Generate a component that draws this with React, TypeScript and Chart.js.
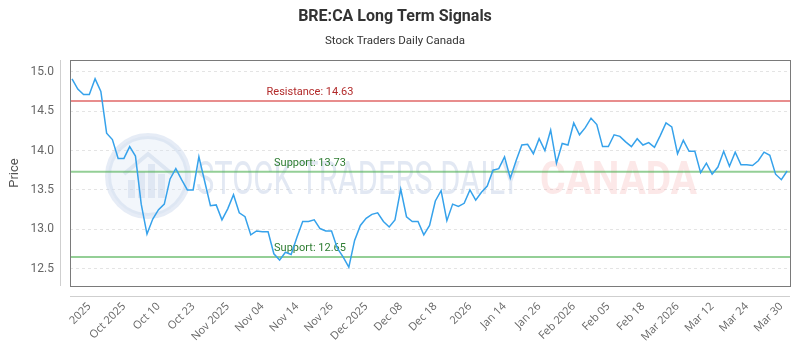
import React, { useEffect, useRef } from 'react';
import { Chart, registerables } from 'chart.js';

Chart.register(...registerables);

const TITLE = 'BRE:CA Long Term Signals';
const SUBTITLE = 'Stock Traders Daily Canada';
const Y_TITLE = 'Price';

// Daily closing prices, oldest first
const prices = [
  14.91, 14.78, 14.71, 14.71, 14.91, 14.75, 14.22, 14.14, 13.9, 13.9,
  14.05, 13.93, 13.32, 12.94, 13.13, 13.25, 13.32, 13.64, 13.77, 13.63,
  13.5, 13.5, 13.92, 13.61, 13.3, 13.31, 13.12, 13.26, 13.44, 13.21,
  13.16, 12.93, 12.98, 12.97, 12.97, 12.69, 12.61, 12.71, 12.68, 12.9,
  13.1, 13.1, 13.12, 13.01, 12.98, 12.98, 12.76, 12.65, 12.52, 12.86,
  13.05, 13.14, 13.19, 13.21, 13.1, 13.03, 13.12, 13.51, 13.16, 13.1,
  13.1, 12.93, 13.05, 13.36, 13.49, 13.11, 13.32, 13.29, 13.33, 13.5,
  13.37, 13.47, 13.55, 13.75, 13.77, 13.92, 13.65, 13.87, 14.07, 14.08,
  13.96, 14.15, 14.0, 14.26, 13.84, 14.09, 14.07, 14.35, 14.2, 14.29,
  14.41, 14.33, 14.05, 14.05, 14.2, 14.18, 14.11, 14.05, 14.15, 14.07,
  14.1, 14.04, 14.19, 14.35, 14.3, 13.96, 14.13, 13.99, 13.99, 13.72,
  13.84, 13.7, 13.79, 13.99, 13.8, 13.98, 13.82, 13.82, 13.81, 13.87,
  13.98, 13.94, 13.7, 13.63, 13.74,
];

// Positions (data index) and texts of the date ticks
const tickPositions = [3, 9, 15, 21, 27, 33, 39, 45, 51, 57, 63, 69, 75, 81, 87, 93, 99, 105, 111, 117, 123];
const tickLabels = [
  '2025', 'Oct 2025', 'Oct 10', 'Oct 23', 'Nov 2025', 'Nov 04', 'Nov 14', 'Nov 26',
  'Dec 2025', 'Dec 08', 'Dec 18', '2026', 'Jan 14', 'Jan 26', 'Feb 2026', 'Feb 05',
  'Feb 18', 'Mar 2026', 'Mar 12', 'Mar 24', 'Mar 30',
];

// Signal levels
const levelNames = ['Resistance', 'Support', 'Support'];
const levelValues = [14.63, 13.73, 12.65];

const LEVEL_LINE = { Resistance: 'rgba(220, 80, 80, 0.65)', Support: 'rgba(76, 175, 80, 0.6)' };
const LEVEL_TEXT = { Resistance: '#b22a2a', Support: '#2e7d32' };

const dataMin = Math.min(...prices);
const dataMax = Math.max(...prices);
const pad = (dataMax - dataMin) * 0.1;

const decorPlugin = {
  id: 'decor',
  beforeDatasetsDraw(chart: any) {
    const { ctx, chartArea, scales } = chart;
    const cx = chart.width / 2;
    const cy = chart.height / 2 + 1;
    ctx.save();

    // brand emblem
    const ex = cx - 252;
    ctx.beginPath();
    ctx.arc(ex, cy, 40, 0, Math.PI * 2);
    ctx.fillStyle = 'rgba(218, 228, 244, 0.35)';
    ctx.fill();
    ctx.lineWidth = 6;
    ctx.strokeStyle = 'rgba(200, 212, 234, 0.45)';
    ctx.stroke();
    ctx.fillStyle = 'rgba(190, 204, 228, 0.35)';
    const bars = [18, 26, 34, 24];
    bars.forEach((h, i) => {
      ctx.fillRect(ex - 20 + i * 10, cy + 22 - h, 7, h);
    });
    ctx.beginPath();
    ctx.moveTo(ex - 24, cy - 2);
    ctx.lineTo(ex, cy - 22);
    ctx.lineTo(ex + 24, cy - 2);
    ctx.lineWidth = 4;
    ctx.strokeStyle = 'rgba(190, 204, 228, 0.4)';
    ctx.stroke();

    // brand text
    const drawFit = (text: string, x: number, w: number, font: string, color: string) => {
      ctx.font = font;
      const m = ctx.measureText(text).width;
      ctx.save();
      ctx.translate(x, cy + 18);
      ctx.scale(w / m, 1);
      ctx.fillStyle = color;
      ctx.textAlign = 'left';
      ctx.textBaseline = 'alphabetic';
      ctx.fillText(text, 0, 0);
      ctx.restore();
    };
    drawFit('STOCK TRADERS DAILY', cx - 204, 324, '400 46px Roboto', 'rgba(185, 200, 226, 0.42)');
    drawFit('CANADA', cx + 140, 157, 'bold 46px Roboto', 'rgba(240, 150, 150, 0.22)');
    ctx.restore();

    // signal levels
    ctx.save();
    const y = scales.y;
    const labelX = chartArea.left + chartArea.width / 3;
    levelValues.forEach((v, i) => {
      const name = levelNames[i] as 'Resistance' | 'Support';
      const py = y.getPixelForValue(v);
      ctx.beginPath();
      ctx.moveTo(chartArea.left, py);
      ctx.lineTo(chartArea.right, py);
      ctx.lineWidth = 2;
      ctx.strokeStyle = LEVEL_LINE[name];
      ctx.stroke();
      ctx.font = '11px Roboto';
      ctx.fillStyle = LEVEL_TEXT[name];
      ctx.textAlign = 'center';
      ctx.textBaseline = 'middle';
      ctx.fillText(`${name}: ${v.toFixed(2)}`, labelX, py - 9);
    });
    ctx.restore();
  },
  afterDraw(chart: any) {
    const { ctx, chartArea } = chart;
    const { left, right, top, bottom } = chartArea;
    ctx.save();
    ctx.lineWidth = 1;
    ctx.strokeStyle = '#cfcfcf';
    ctx.beginPath();
    ctx.moveTo(Math.round(left) - 9.5, top);
    ctx.lineTo(Math.round(left) - 9.5, bottom);
    ctx.moveTo(left, Math.round(bottom) + 10.5);
    ctx.lineTo(right, Math.round(bottom) + 10.5);
    ctx.stroke();
    ctx.strokeStyle = '#7a7a7a';
    ctx.strokeRect(Math.round(left) + 0.5, Math.round(top) + 0.5, Math.round(right - left), Math.round(bottom - top));
    ctx.restore();
  },
};

export default function App() {
  const canvasRef = useRef<HTMLCanvasElement | null>(null);

  useEffect(() => {
    if (!canvasRef.current) return;
    const chart = new Chart(canvasRef.current, {
      type: 'line',
      data: {
        datasets: [
          {
            label: 'Price',
            data: prices.map((p, i) => ({ x: i, y: p })),
            borderColor: 'rgb(54, 162, 235)',
            backgroundColor: 'rgb(54, 162, 235)',
            borderWidth: 1.5,
            pointRadius: 0,
            tension: 0,
            fill: false,
          },
        ],
      },
      options: {
        responsive: false,
        animation: false,
        layout: { padding: { left: 0, right: 10, top: 0, bottom: 0 } },
        plugins: {
          legend: { display: false },
          tooltip: { enabled: false },
          title: {
            display: true,
            text: TITLE,
            color: '#333',
            font: { family: 'Roboto', size: 16, weight: 'bold' },
            padding: { top: 7, bottom: 4 },
          },
          subtitle: {
            display: true,
            text: SUBTITLE,
            color: '#333',
            font: { family: 'Roboto', size: 11.5 },
            padding: { top: 4, bottom: 12 },
          },
        },
        scales: {
          x: {
            type: 'linear',
            min: -0.35,
            max: prices.length - 0.5,
            afterBuildTicks: (scale: any) => {
              scale.ticks = tickPositions.map((v) => ({ value: v }));
            },
            afterFit: (scale: any) => {
              scale.height = 64;
            },
            ticks: {
              autoSkip: false,
              minRotation: 45,
              maxRotation: 45,
              padding: 4,
              color: '#666',
              font: { family: 'Open Sans', size: 11 },
              callback: (v: any) => {
                const i = tickPositions.indexOf(Number(v));
                return i >= 0 ? tickLabels[i] : '';
              },
            },
            grid: { drawOnChartArea: false, drawTicks: true, tickLength: 10, color: 'rgba(0,0,0,0)' },
            border: { display: false },
          },
          y: {
            min: dataMin - pad,
            max: dataMax + pad,
            afterFit: (scale: any) => {
              scale.width = 70;
            },
            ticks: {
              stepSize: 0.5,
              includeBounds: false,
              padding: 6,
              color: '#666',
              font: { family: 'Roboto', size: 12 },
              callback: (v: any) => Number(v).toFixed(1),
            },
            grid: { color: '#e4e4e4', drawTicks: true, tickLength: 10, tickColor: 'rgba(0,0,0,0)' },
            border: { display: false, dash: [3, 3] },
            title: {
              display: true,
              text: Y_TITLE,
              color: '#555',
              font: { family: 'Roboto', size: 13 },
              padding: { top: 7, bottom: 0 },
            },
          },
        },
      },
      plugins: [decorPlugin],
    });
    return () => chart.destroy();
  }, []);

  return (
    <div style={{ position: 'absolute', left: 0, top: 0, width: 800, height: 350, background: '#fff' }}>
      <canvas ref={canvasRef} width={800} height={350} />
    </div>
  );
}
